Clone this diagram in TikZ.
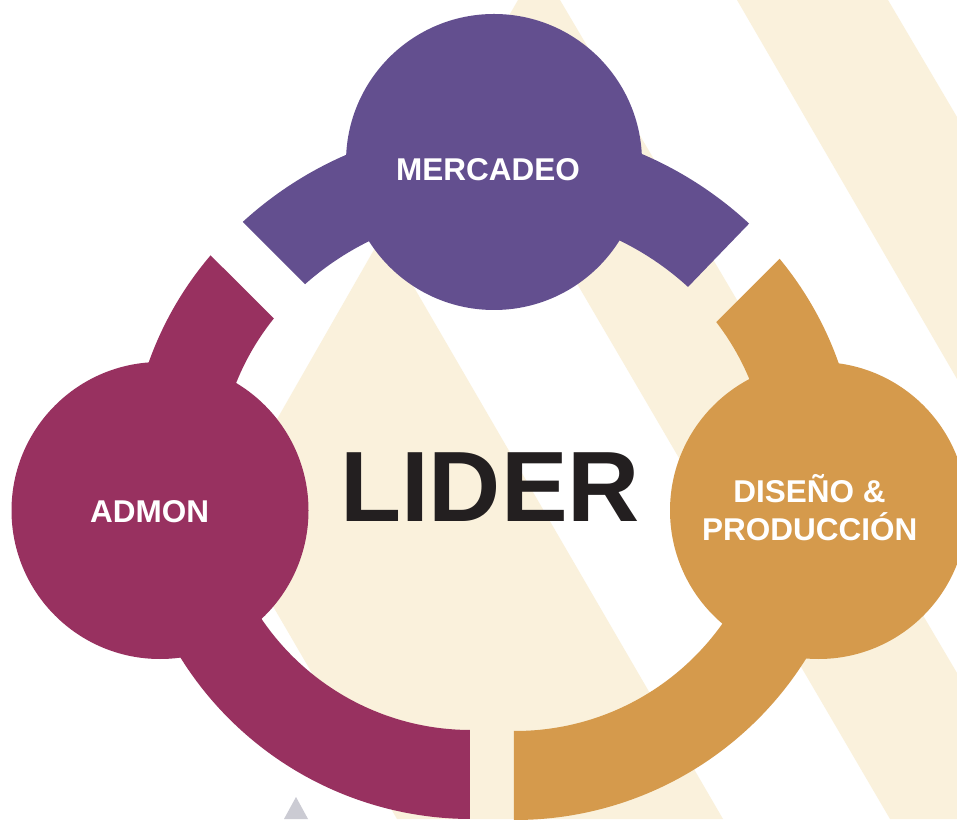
\documentclass[tikz,border=0pt]{standalone}
\usepackage{fontspec}
\setmainfont{Liberation Sans}
\usetikzlibrary{calc}
\definecolor{cpurple}{HTML}{634F8F}
\definecolor{cmagenta}{HTML}{983160}
\definecolor{corange}{HTML}{D59A4C}
\definecolor{ccream}{HTML}{FAF1DC}
\definecolor{cgrey}{HTML}{CBCBD3}
\definecolor{cink}{HTML}{231F20}
\tikzset{
  bubble/.style={circle, inner sep=0pt, draw=none, minimum size=#1},
  lbl/.style={text=white, font=\fontsize{31.5}{38.5}\selectfont\bfseries, inner sep=0pt, align=center},
  bigword/.style={text=cink, font=\fontsize{100}{110}\selectfont\bfseries, inner sep=0pt}
}
\begin{document}
\begin{tikzpicture}[x=1pt,y=1pt]
\useasboundingbox (0,0) rectangle (957,819);
\fill[white] (0,0) rectangle (957,819);
\begin{scope}
\clip (0,0) rectangle (957,819);
% background cream stripes
\fill[ccream] (383,585) -- (723,0) -- (397,0) -- (221,302) -- cycle;
\fill[ccream] (465,727) -- (518,819) -- (560,819) -- (957,146) -- (957,0) -- (890,0) -- cycle;
\fill[ccream] (737,819) -- (888,819) -- (957,702) -- (957,440) -- cycle;
\fill[cgrey] (296,22) -- (284,0) -- (308,0) -- cycle;
% ring segments
\fill[cpurple, shift={(495,321)}] (132.4:374) arc[start angle=132.4, end angle=47.2, radius=374pt]
  -- (47.56:286) arc[start angle=47.56, end angle=131.6, radius=286pt] -- cycle;
\fill[cmagenta, shift={(471,342)}] (139.6:342) arc[start angle=139.6, end angle=269.83, radius=342pt]
  -- (269.77:253) arc[start angle=269.77, end angle=141.2, radius=253pt] -- cycle;
\fill[corange, shift={(515,342)}] (39.5:343) arc[start angle=39.5, end angle=-90.17, radius=343pt]
  -- (-90.23:254) arc[start angle=-90.23, end angle=37.6, radius=254pt] -- cycle;
% circles
\node[bubble=296pt, fill=cpurple] (mercadeo) at (494,657) {};
\node[bubble=297pt, fill=cmagenta] (admon) at (160,308.5) {};
\node[bubble=297pt, fill=corange] (diseno) at (818.5,308.5) {};
\end{scope}
% texts
\node[lbl, anchor=base] (tmerc) at (488,638.5) {MERCADEO};
\node[lbl, anchor=base] (tadmon) at (149.6,296.5) {ADMON};
\node[lbl, anchor=base] (tdis1) at (809.5,316.4) {DISEÑO \&};
\node[lbl, anchor=base] (tdis2) at (809.8,278) {PRODUCCIÓN};
\node[bigword, anchor=base] (lider) at (490,297.3) {LIDER};
\end{tikzpicture}
\end{document}
